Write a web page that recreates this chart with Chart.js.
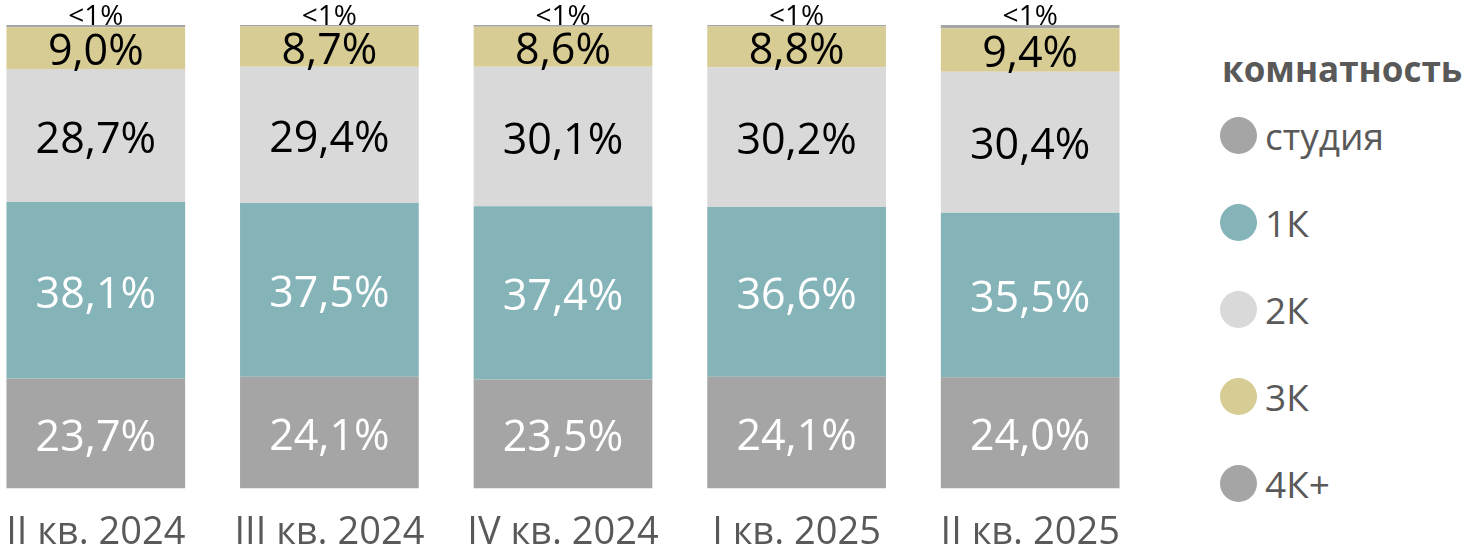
<!DOCTYPE html>
<html>
<head>
<meta charset="utf-8">
<script src="https://cdn.jsdelivr.net/npm/chart.js@4"></script>
<style>
  html, body { margin: 0; padding: 0; background: #fff; }
  body { width: 1466px; height: 552px; position: relative; overflow: hidden; font-family: "Open Sans", sans-serif; }
  #wrap { position: absolute; left: -21px; top: 0; width: 1168px; height: 556px; }
  #legend { position: absolute; left: 1222px; top: 44px; color: #595959; }
  #legend .title { font-weight: bold; font-size: 35px; line-height: 50px; margin-bottom: -2px; }
  #legend .item { height: 87px; display: flex; align-items: center; font-size: 37px; margin-left: -2px; }
  #legend .dot { width: 37px; height: 37px; border-radius: 50%; margin-right: 8px; }
</style>
</head>
<body>
<div id="wrap"><canvas id="chart"></canvas></div>
<div id="legend"></div>
<script>
const categories = ['II кв. 2024', 'III кв. 2024', 'IV кв. 2024', 'I кв. 2025', 'II кв. 2025'];
const seriesNames = ['студия', '1К', '2К', '3К', '4К+'];
const studio = [23.7, 24.1, 23.5, 24.1, 24.0];
const oneRoom = [38.1, 37.5, 37.4, 36.6, 35.5];
const twoRoom = [28.7, 29.4, 30.1, 30.2, 30.4];
const threeRoom = [9.0, 8.7, 8.6, 8.8, 9.4];
const fourPlus = [0.5, 0.3, 0.4, 0.3, 0.7];
const colors = ['#a5a5a5', '#84b3b8', '#d9d9d9', '#d7cc94', '#a5a5a5'];
const labelColors = ['#ffffff', '#ffffff', '#000000', '#000000', '#000000'];

const seriesData = [studio, oneRoom, twoRoom, threeRoom, fourPlus];

function fmt(v) {
  if (v < 1) return '<1%';
  return v.toFixed(1).replace('.', ',') + '%';
}

// draws the value labels inside the segments (small ones above the bar)
const valueLabels = {
  id: 'valueLabels',
  afterDatasetsDraw(chart) {
    const ctx = chart.ctx;
    ctx.save();
    ctx.textAlign = 'center';
    chart.data.datasets.forEach((ds, di) => {
      const meta = chart.getDatasetMeta(di);
      meta.data.forEach((bar, i) => {
        const v = ds.data[i];
        ctx.fillStyle = labelColors[di];
        if (v < 1) {
          ctx.font = '28px "Open Sans"';
          ctx.textBaseline = 'bottom';
          ctx.fillText(fmt(v), bar.x, bar.y + 6);
        } else {
          ctx.font = '43px "Open Sans"';
          ctx.textBaseline = 'middle';
          ctx.fillText(fmt(v), bar.x, (bar.y + bar.base) / 2 + 5);
        }
      });
    });
    ctx.restore();
  }
};

new Chart(document.getElementById('chart').getContext('2d'), {
  type: 'bar',
  data: {
    labels: categories,
    datasets: seriesNames.map((name, i) => ({
      label: name,
      data: seriesData[i],
      backgroundColor: colors[i],
      borderWidth: 0,
      barPercentage: 0.765,
      categoryPercentage: 1
    }))
  },
  options: {
    responsive: true,
    maintainAspectRatio: false,
    animation: false,
    layout: { padding: { top: 25, bottom: 0, left: 0, right: 0 } },
    plugins: {
      legend: { display: false },
      tooltip: { enabled: false }
    },
    scales: {
      x: {
        stacked: true,
        grid: { display: false, tickLength: 22 },
        border: { display: false },
        ticks: { color: '#595959', font: { family: 'Open Sans', size: 38 }, padding: 0, maxRotation: 0 }
      },
      y: {
        stacked: true,
        display: false,
        min: 0,
        max: 100
      }
    }
  },
  plugins: [valueLabels]
});

const legend = document.getElementById('legend');
let html = '<div class="title">комнатность</div>';
seriesNames.forEach((name, i) => {
  html += '<div class="item"><span class="dot" style="background:' + colors[i] + '"></span>' + name + '</div>';
});
legend.innerHTML = html;
</script>
</body>
</html>
